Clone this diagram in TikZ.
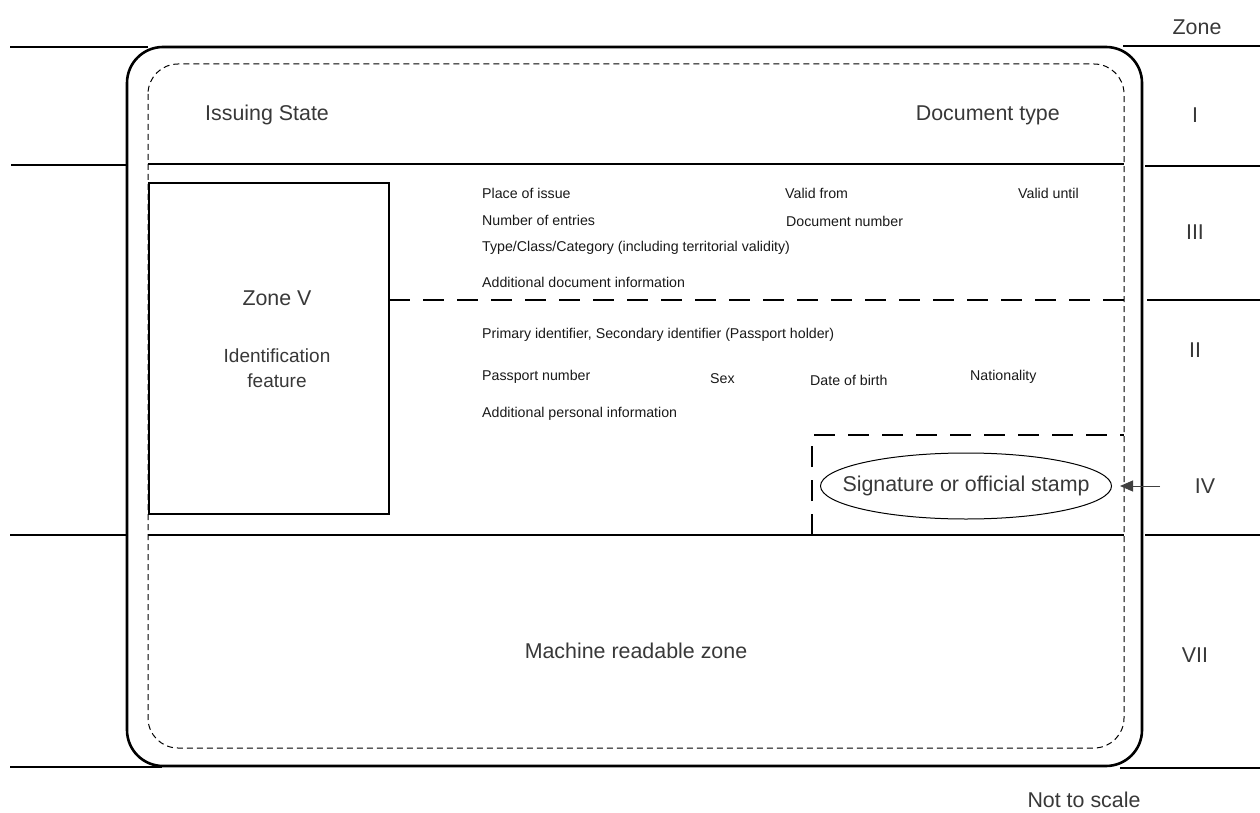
\documentclass[tikz,border=0pt]{standalone}
\usepackage{fontspec}
\setmainfont{Liberation Sans}
\usetikzlibrary{shapes.geometric,arrows.meta}
\tikzset{
  big/.style={font=\fontsize{21.4}{24}\selectfont, text=black!78, inner sep=0pt},
  small/.style={font=\fontsize{14.2}{16}\selectfont, text=black!90, anchor=west, inner sep=0pt},
  thin/.style={line width=1.1pt, black},
  outerframe/.style={line width=2.6pt, black, rounded corners=36pt},
  innerframe/.style={line width=1pt, black, dash pattern=on 6pt off 4pt, rounded corners=30pt},
  zonedash/.style={line width=2.4pt, black, dash pattern=on 21pt off 13pt},
  stampring/.style={line width=1pt, black},
  pointer/.style={line width=1pt, black!75, -{Triangle[length=13pt,width=11pt]}}
}
\begin{document}
\begin{tikzpicture}[x=1pt,y=-1pt]
\useasboundingbox (0,0) rectangle (1260,813);
% frames
\draw[outerframe] (127,47) rectangle (1142,766);
\draw[innerframe] (148,64) rectangle (1124,748);
% zone lines left
\draw[thin] (10,47) -- (148,47);
\draw[thin] (11,165) -- (127,165);
\draw[thin] (10,535) -- (127,535);
\draw[thin] (10,767) -- (162,767);
% zone lines right
\draw[thin] (1123,46) -- (1260,46);
\draw[thin] (1145,166) -- (1260,166);
\draw[thin] (1147,300) -- (1260,300);
\draw[thin] (1145,535) -- (1260,535);
\draw[thin] (1120,768) -- (1260,768);
% inner lines
\draw[thin] (148,164) -- (1124,164);
\draw[thin] (148,535) -- (1124,535);
% zone V box
\draw[thin] (149,183) rectangle (389,514);
% zone divider II/III
\draw[zonedash] (389,300) -- (1124,300);
% signature box
\draw[zonedash] (812,535) -- (812,435) -- (1124,435);
% header texts
\node[big, anchor=west] (issuing) at (205,115) {Issuing State};
\node[big, anchor=east] (doctype) at (1060,115) {Document type};
% zone III texts
\node[small] (place) at (482,193) {Place of issue};
\node[small] (vfrom) at (785,193) {Valid from};
\node[small] (vuntil) at (1018,193) {Valid until};
\node[small] (entries) at (482,220) {Number of entries};
\node[small] (docnum) at (786,221) {Document number};
\node[small] (type) at (482,248) {Type/Class/Category (including territorial validity)};
\node[small] (adddoc) at (482,282) {Additional document information};
% zone II texts
\node[small] (primary) at (482,335) {Primary identifier, Secondary identifier (Passport holder)};
\node[small] (passnum) at (482,377) {Passport number};
\node[small] (sex) at (710,379) {Sex};
\node[small] (dob) at (810,380) {Date of birth};
\node[small] (nat) at (970,377) {Nationality};
\node[small] (addpers) at (482,414) {Additional personal information};
% zone V texts
\node[big] (zonev) at (277,298) {Zone V};
\node[big, font=\fontsize{19}{25}\selectfont, align=center] (ident) at (277,368) {Identification\\feature};
% MRZ
\node[big] (mrz) at (636,651) {Machine readable zone};
% signature ellipse
\node[big] (sig) at (966,486) {Signature or official stamp};
\draw[stampring] (sig.center) ellipse [x radius=145.5pt, y radius=33pt];
% zone labels
\node[big] (zonehdr) at (1197,27) {Zone};
\node[big] (zI) at (1195,115) {I};
\node[big] (zIII) at (1195,232) {III};
\node[big] (zII) at (1195,350) {II};
\node[big] (zIV) at (1205,486) {IV};
\node[big] (zVII) at (1195,655) {VII};
\node[big] (nts) at (1084,800) {Not to scale};
% arrow
\coordinate (arrstart) at (1160,486);
\coordinate (arrtip) at (1120,486);
\draw[pointer] (arrstart) -- (arrtip);
\end{tikzpicture}
\end{document}
